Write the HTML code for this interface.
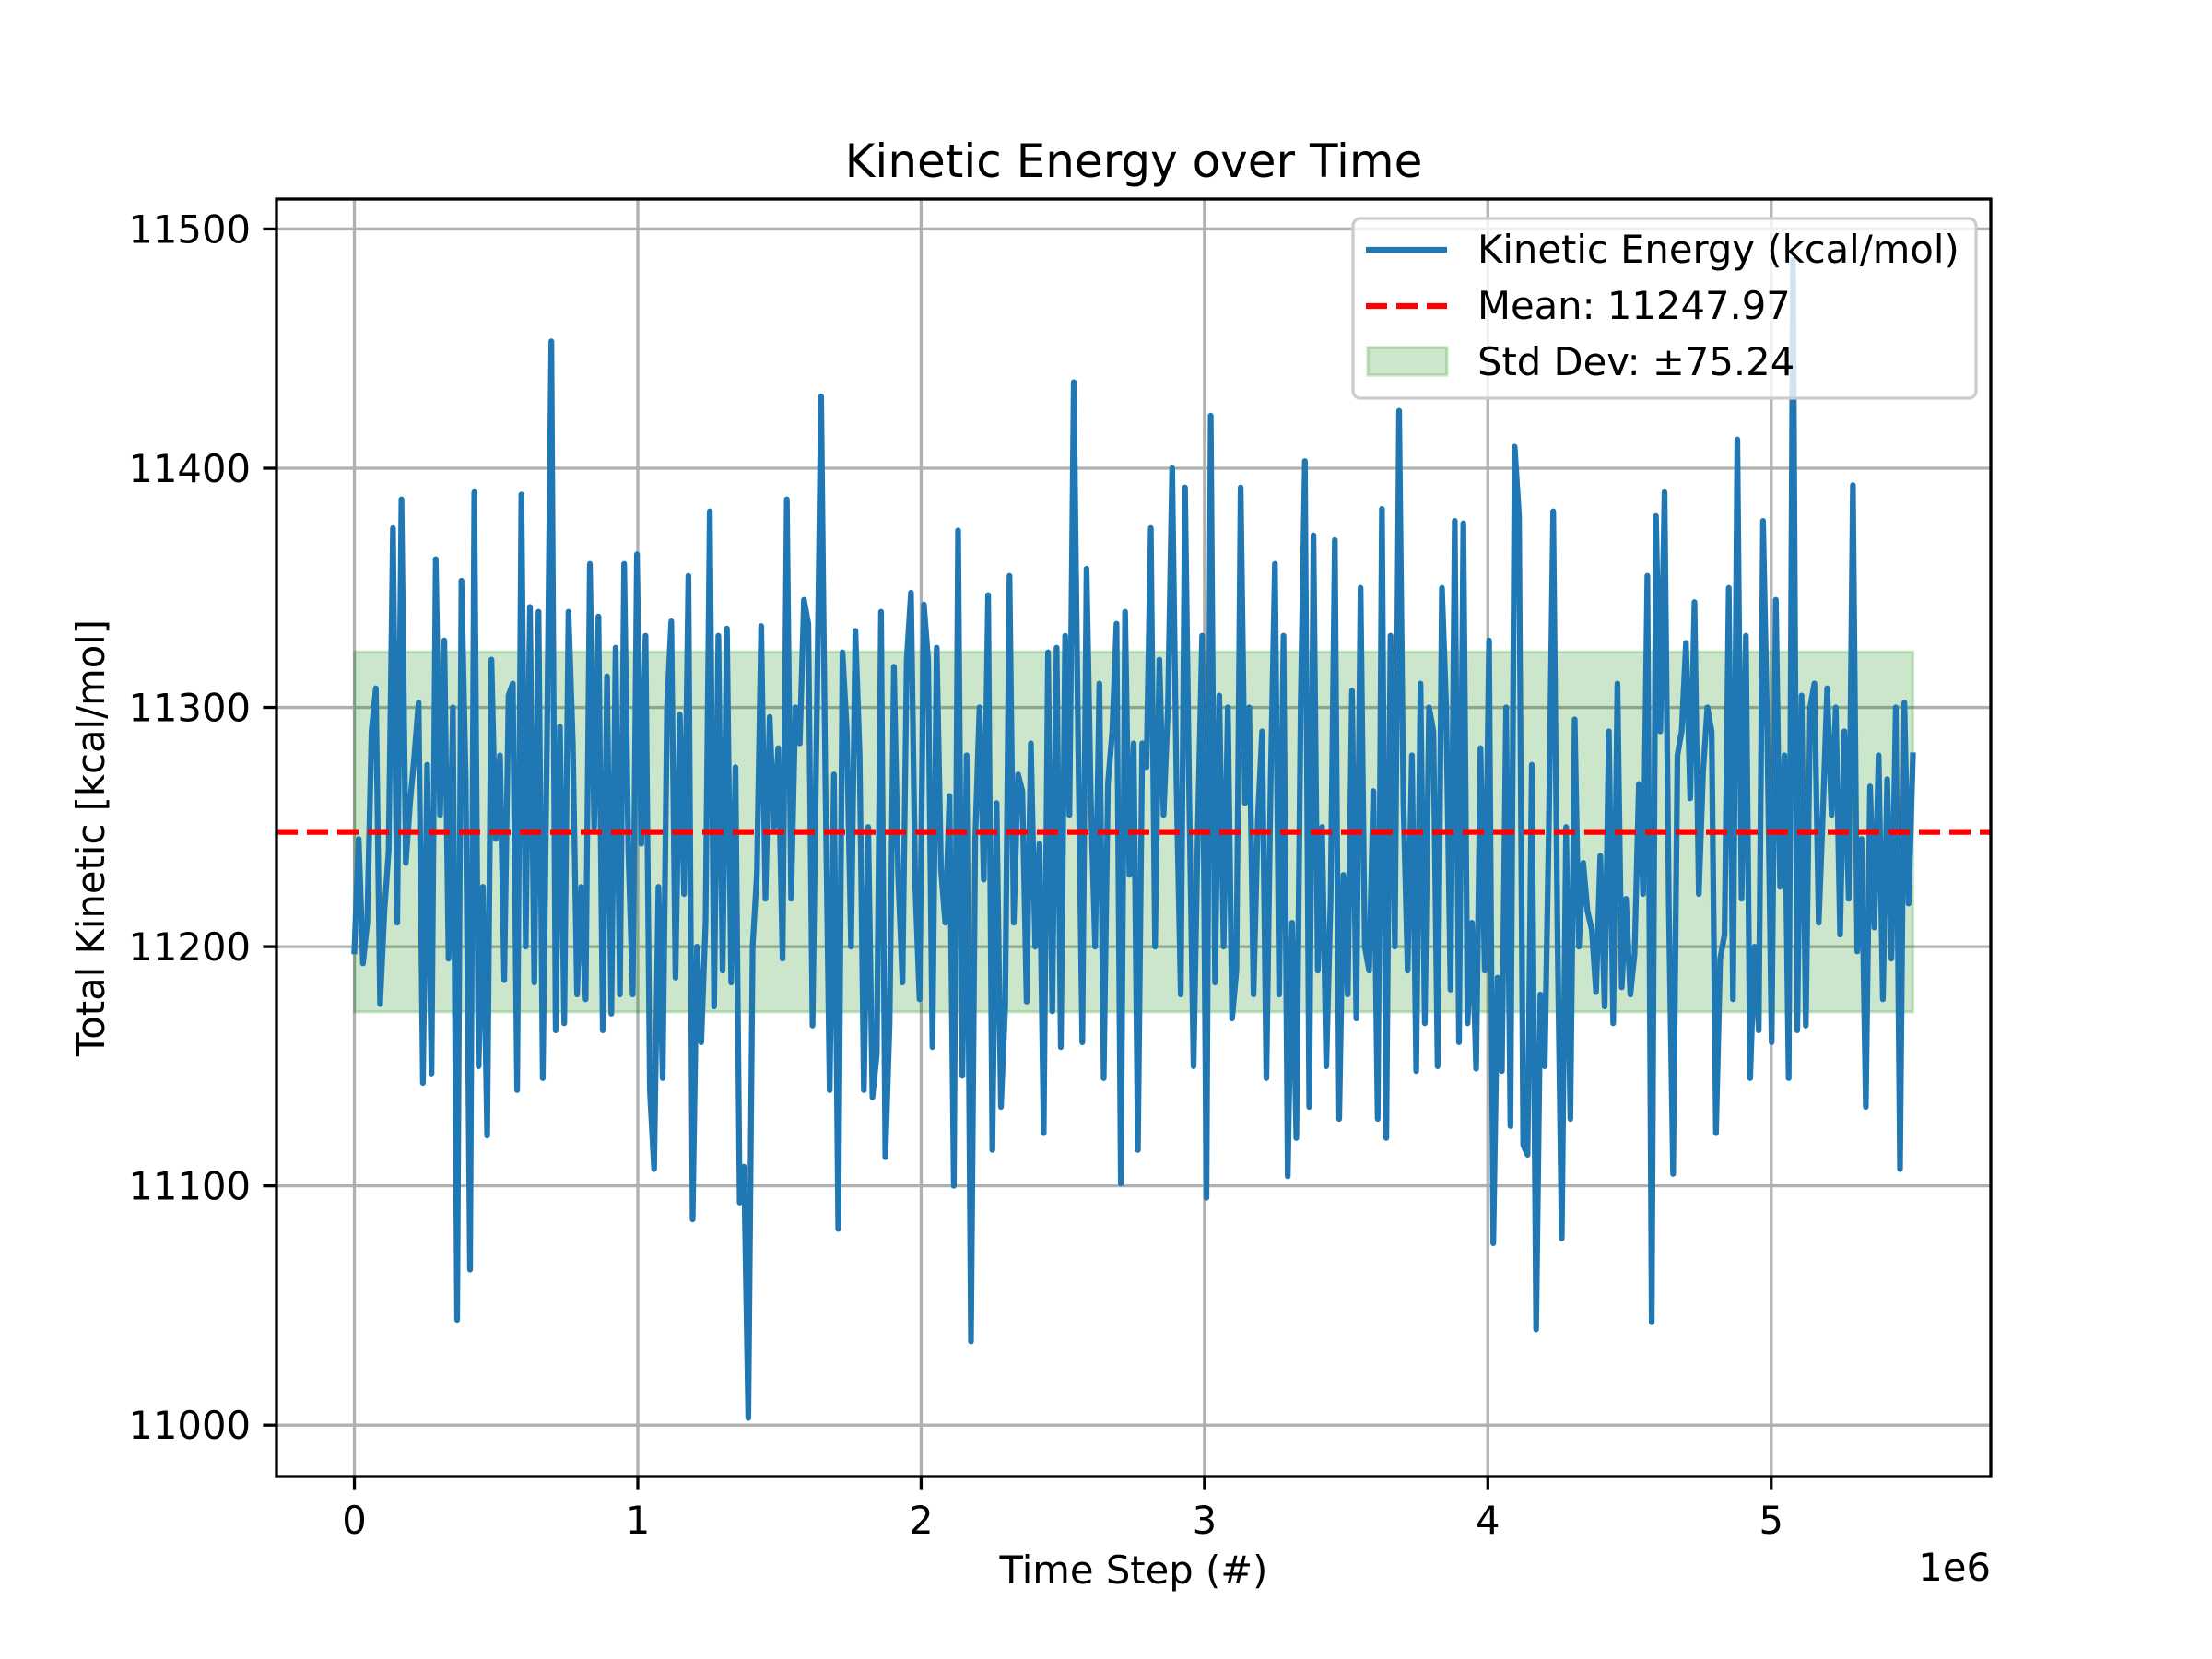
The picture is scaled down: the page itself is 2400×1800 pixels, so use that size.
<!DOCTYPE html>
<html><head><meta charset="utf-8"><style>
html,body{margin:0;padding:0;background:#fff;}
svg{display:block;font-family:"DejaVu Sans","Liberation Sans",sans-serif;}
</style></head><body>
<svg id="chart" width="2400" height="1800" viewBox="0 0 2400 1800" xmlns="http://www.w3.org/2000/svg">
<rect x="0" y="0" width="2400" height="1800" fill="#fff"/>
<g id="grid"></g>
<g id="band"></g>
<g id="series"></g>
<g id="meanline"></g>
<rect x="300" y="216" width="1860" height="1386" fill="none" stroke="#000" stroke-width="3.3"/>
<g id="ticks"></g>
<text x="1230" y="192" font-size="50" text-anchor="middle">Kinetic Energy over Time</text>
<text x="1230" y="1718" font-size="41.7" text-anchor="middle">Time Step (#)</text>
<text x="2160" y="1715" font-size="41.7" text-anchor="end">1e6</text>
<text transform="translate(113,909) rotate(-90)" font-size="41.7" text-anchor="middle">Total Kinetic [kcal/mol]</text>
<g id="legend">
<rect x="1468" y="237" width="676" height="195" rx="8" fill="#fff" fill-opacity="0.8" stroke="#cccccc" stroke-width="3.3"/>
<line x1="1482" y1="271" x2="1570" y2="271" stroke="#1f77b4" stroke-width="6.25"/>
<text x="1603" y="285" font-size="41.7">Kinetic Energy (kcal/mol)</text>
<line x1="1482" y1="332" x2="1570" y2="332" stroke="#ff0000" stroke-width="6.25" stroke-dasharray="23,10"/>
<text x="1603" y="346" font-size="41.7">Mean: 11247.97</text>
<rect x="1484" y="377" width="86" height="30" fill="#008000" fill-opacity="0.2" stroke="#008000" stroke-opacity="0.2" stroke-width="3.3"/>
<text x="1603" y="407" font-size="41.7">Std Dev: ±75.24</text>
</g>
</svg>
<script>
const energyValues = [
11198,11245,11193,11210,11290,11308,11176,11215,11240,11375,11210,11387,11235,11260,11280,
11302,11143,11276,11147,11362,11255,11328,11195,11300,11044,11353,11270,11065,11390,11150,11225,11121,
11320,11245,11280,11186,11305,11310,11140,11389,11200,11342,11185,11340,11145,11290,11453,11165,11292,
11168,11340,11285,11180,11225,11178,11360,11250,11338,11165,11313,11172,11325,11180,11360,11240,11180,11364,
11243,11330,11140,11107,11225,11145,11300,11336,11187,11297,11222,11355,11086,11200,11160,11210,11382,
11175,11330,11190,11333,11185,11275,11093,11108,11003,11200,11230,11334,11220,11296,11250,11283,11195,
11387,11220,11300,11285,11345,11335,11167,11295,11430,11270,11140,11272,11082,11323,11290,11200,
11332,11280,11140,11250,11137,11155,11340,11112,11168,11317,11230,11185,11320,11348,11225,11178,11343,
11320,11158,11325,11232,11210,11263,11100,11374,11146,11280,11035,11245,11300,11228,11347,11115,
11260,11133,11175,11355,11210,11272,11265,11177,11285,11200,11243,11122,11323,11173,11325,11158,
11330,11255,11436,11290,11160,11358,11262,11200,11310,11145,11268,11290,11335,11101,11340,11230,
11285,11115,11285,11275,11375,11200,11320,11255,11300,11400,11268,11180,11392,11260,11150,11250,
11330,11095,11422,11185,11305,11200,11300,11170,11190,11392,11260,11300,11180,11253,11290,11145,11270,11360,
11180,11330,11104,11210,11120,11300,11403,11133,11372,11190,11250,11150,11220,11370,11128,11230,11180,
11307,11170,11350,11200,11190,11265,11128,11383,11120,11330,11200,11424,11260,11190,11280,11148,
11310,11168,11300,11290,11150,11350,11300,11182,11378,11160,11377,11168,11210,11149,11283,11190,11328,
11076,11187,11148,11300,11125,11409,11380,11117,11113,11276,11040,11180,11150,11253,11382,11205,11078,11250,
11128,11295,11200,11235,11215,11207,11181,11238,11175,11290,11168,11310,11183,11220,11180,11197,11268,
11222,11355,11043,11380,11290,11390,11216,11105,11280,11290,11327,11262,11344,11222,11273,11300,11290,
11122,11195,11205,11350,11178,11412,11220,11330,11145,11200,11165,11378,11290,11160,11345,
11225,11280,11145,11487,11165,11305,11167,11300,11310,11210,11257,11308,11255,11300,11205,
11290,11220,11393,11198,11245,11133,11267,11208,11280,11178,11270,11195,11300,11107,11302,11218,11280
];
const timeStart = 0;
const timeEnd = 5500000;
const meanValue = 11247.97;
const stdValue = 75.24;
const xTicks = [0,1,2,3,4,5];
const xTickLabels = ["0","1","2","3","4","5"];
const yTicks = [11000,11100,11200,11300,11400,11500];
const yTickLabels = ["11000","11100","11200","11300","11400","11500"];

const NS = "http://www.w3.org/2000/svg";
const L=300,R=2160,T=216,B=1602;
const XMIN=-275000, XMAX=5775000, YMIN=10978.5, YMAX=11512.5;
function xs(v){return L+(v-XMIN)/(XMAX-XMIN)*(R-L);}
function ys(v){return B-(v-YMIN)/(YMAX-YMIN)*(B-T);}
function mk(tag,attrs,parent){const e=document.createElementNS(NS,tag);for(const k in attrs)e.setAttribute(k,attrs[k]);parent.appendChild(e);return e;}

const grid=document.getElementById('grid');
const ticks=document.getElementById('ticks');
xTicks.forEach((t,i)=>{
  const x=xs(t*1e6);
  const g=mk('line',{x1:x,y1:T,x2:x,y2:B,stroke:'#b0b0b0','stroke-width':3.3},grid);
  
  
  const tk=mk('line',{x1:x,y1:B,x2:x,y2:B+14.6,stroke:'#000','stroke-width':3.3},ticks);
  
  
  const lb=mk('text',{x:x,y:B+62,'font-size':41.7,'text-anchor':'middle'},ticks);
  lb.textContent=xTickLabels[i];
  
  
});
yTicks.forEach((t,i)=>{
  const y=ys(t);
  const g=mk('line',{x1:L,y1:y,x2:R,y2:y,stroke:'#b0b0b0','stroke-width':3.3},grid);
  
  
  const tk=mk('line',{x1:L-14.6,y1:y,x2:L,y2:y,stroke:'#000','stroke-width':3.3},ticks);
  
  
  const lb=mk('text',{x:L-28,y:y+15,'font-size':41.7,'text-anchor':'end'},ticks);
  lb.textContent=yTickLabels[i];
  
  
});

const band=document.getElementById('band');
const bx1=xs(timeStart), bx2=xs(timeEnd), by1=ys(meanValue+stdValue), by2=ys(meanValue-stdValue);
const br=mk('rect',{x:bx1,y:by1,width:bx2-bx1,height:by2-by1,fill:'#008000','fill-opacity':0.2,stroke:'#008000','stroke-opacity':0.2,'stroke-width':3.3},band);



const n=energyValues.length;
const pts=energyValues.map((v,i)=>{const t=timeStart+(timeEnd-timeStart)*i/(n-1);return xs(t).toFixed(1)+','+ys(v).toFixed(1);}).join(' ');
const pl=mk('polyline',{points:pts,fill:'none',stroke:'#1f77b4','stroke-width':6.25,'stroke-linejoin':'round','stroke-linecap':'square'},document.getElementById('series'));



const ml=mk('line',{x1:L,y1:ys(meanValue),x2:R,y2:ys(meanValue),stroke:'#ff0000','stroke-width':6.25,'stroke-dasharray':'23,10'},document.getElementById('meanline'));


</script>
</body></html>
